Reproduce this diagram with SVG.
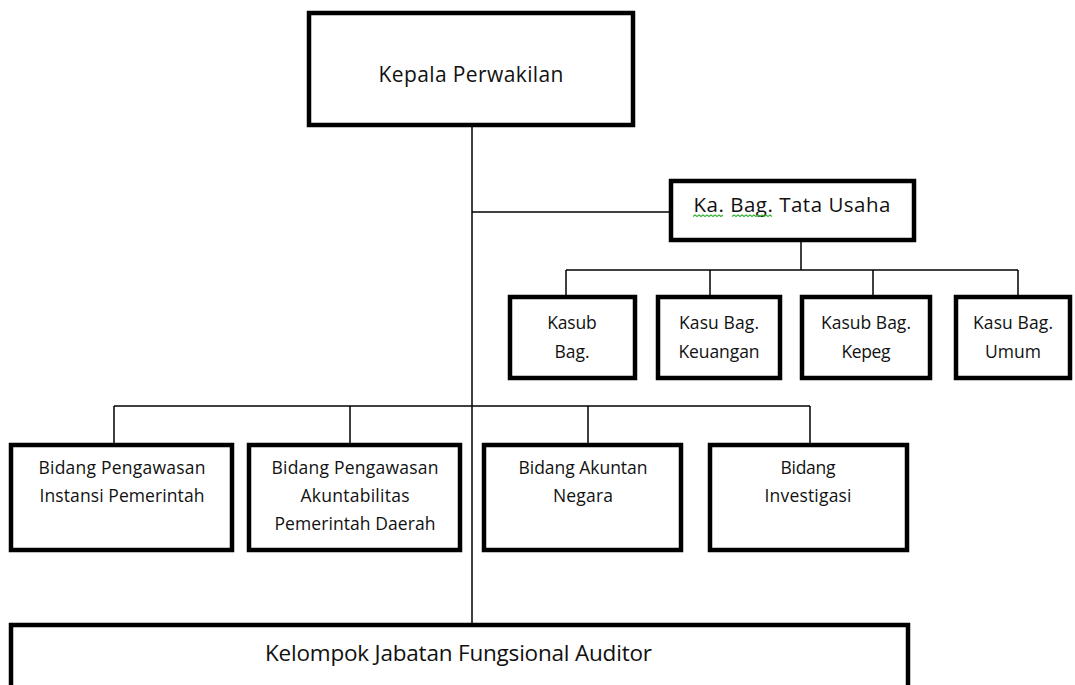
<svg xmlns="http://www.w3.org/2000/svg" width="1075" height="685" viewBox="0 0 1075 685">
<style>
.box{fill:#fff;stroke:#000;stroke-width:4.5}
.ln{fill:none;stroke:#000;stroke-width:1.5}
text{font-family:"Open Sans","Noto Sans","DejaVu Sans",sans-serif;fill:#111;text-anchor:middle}
.s{font-size:17.5px}
.m{font-size:20.5px}
.l{font-size:21px}
.k{font-size:22.5px}
.sq{fill:none;stroke:#3cb43c;stroke-width:1.2}
</style>
<rect width="1075" height="685" fill="#fff"/>
<g id="connectors">
<line class="ln" x1="472" y1="127" x2="472" y2="624"/>
<line class="ln" x1="472" y1="212" x2="669" y2="212"/>
<line class="ln" x1="801" y1="242" x2="801" y2="270"/>
<line class="ln" x1="566" y1="270" x2="1018" y2="270"/>
<line class="ln" x1="566" y1="270" x2="566" y2="295"/>
<line class="ln" x1="710" y1="270" x2="710" y2="295"/>
<line class="ln" x1="873" y1="270" x2="873" y2="295"/>
<line class="ln" x1="1018" y1="270" x2="1018" y2="295"/>
<line class="ln" x1="114" y1="406" x2="810" y2="406"/>
<line class="ln" x1="114" y1="406" x2="114" y2="443"/>
<line class="ln" x1="350" y1="406" x2="350" y2="443"/>
<line class="ln" x1="588" y1="406" x2="588" y2="443"/>
<line class="ln" x1="810" y1="406" x2="810" y2="443"/>
</g>
<g id="kepala">
<rect class="box" x="309" y="13" width="324" height="112"/>
<text class="l" x="471" y="82" textLength="185" lengthAdjust="spacing">Kepala Perwakilan</text>
</g>
<g id="kabag">
<rect class="box" x="671" y="181" width="243" height="59"/>
<text class="m" x="792" y="212" textLength="197" lengthAdjust="spacing">Ka. Bag. Tata Usaha</text>
<path class="sq" d="M693 216.5 l2 -1.5 l2 1.5 l2 -1.5 l2 1.5 l2 -1.5 l2 1.5 l2 -1.5 l2 1.5 l2 -1.5 l2 1.5 l2 -1.5 l2 1.5 l2 -1.5 l2 1.5 l2 -1.5 M732 216.5 l2 -1.5 l2 1.5 l2 -1.5 l2 1.5 l2 -1.5 l2 1.5 l2 -1.5 l2 1.5 l2 -1.5 l2 1.5 l2 -1.5 l2 1.5 l2 -1.5 l2 1.5 l2 -1.5 l2 1.5 l2 -1.5 l2 1.5 l2 -1.5 l2 1.5"/>
</g>
<g id="kasub1">
<rect class="box" x="510" y="297" width="125" height="81"/>
<text class="s" x="572" y="329" textLength="49.5" lengthAdjust="spacing">Kasub</text>
<text class="s" x="572" y="358" textLength="35" lengthAdjust="spacing">Bag.</text>
</g>
<g id="kasub2">
<rect class="box" x="658" y="297" width="122" height="81"/>
<text class="s" x="719" y="329" textLength="80" lengthAdjust="spacing">Kasu Bag.</text>
<text class="s" x="719" y="358" textLength="81" lengthAdjust="spacing">Keuangan</text>
</g>
<g id="kasub3">
<rect class="box" x="802" y="297" width="128" height="81"/>
<text class="s" x="866" y="329" textLength="90" lengthAdjust="spacing">Kasub Bag.</text>
<text class="s" x="866" y="358" textLength="49" lengthAdjust="spacing">Kepeg</text>
</g>
<g id="kasub4">
<rect class="box" x="956" y="297" width="114" height="81"/>
<text class="s" x="1013" y="329" textLength="80" lengthAdjust="spacing">Kasu Bag.</text>
<text class="s" x="1013" y="358" textLength="56" lengthAdjust="spacing">Umum</text>
</g>
<g id="bidang1">
<rect class="box" x="11" y="445" width="221" height="105"/>
<text class="s" x="122" y="474" textLength="167" lengthAdjust="spacing">Bidang Pengawasan</text>
<text class="s" x="122" y="502" textLength="165" lengthAdjust="spacing">Instansi Pemerintah</text>
</g>
<g id="bidang2">
<rect class="box" x="249" y="445" width="211" height="105"/>
<text class="s" x="355" y="474" textLength="167" lengthAdjust="spacing">Bidang Pengawasan</text>
<text class="s" x="355" y="502" textLength="109" lengthAdjust="spacing">Akuntabilitas</text>
<text class="s" x="355" y="530" textLength="161" lengthAdjust="spacing">Pemerintah Daerah</text>
</g>
<g id="bidang3">
<rect class="box" x="484" y="445" width="197" height="105"/>
<text class="s" x="583" y="474" textLength="129" lengthAdjust="spacing">Bidang Akuntan</text>
<text class="s" x="583" y="502" textLength="60" lengthAdjust="spacing">Negara</text>
</g>
<g id="bidang4">
<rect class="box" x="710" y="445" width="197" height="105"/>
<text class="s" x="808" y="474" textLength="55" lengthAdjust="spacing">Bidang</text>
<text class="s" x="808" y="502" textLength="87" lengthAdjust="spacing">Investigasi</text>
</g>
<g id="kelompok">
<rect class="box" x="11" y="625" width="897" height="80"/>
<text class="k" x="458.5" y="661" textLength="387" lengthAdjust="spacing">Kelompok Jabatan Fungsional Auditor</text>
</g>
</svg>
